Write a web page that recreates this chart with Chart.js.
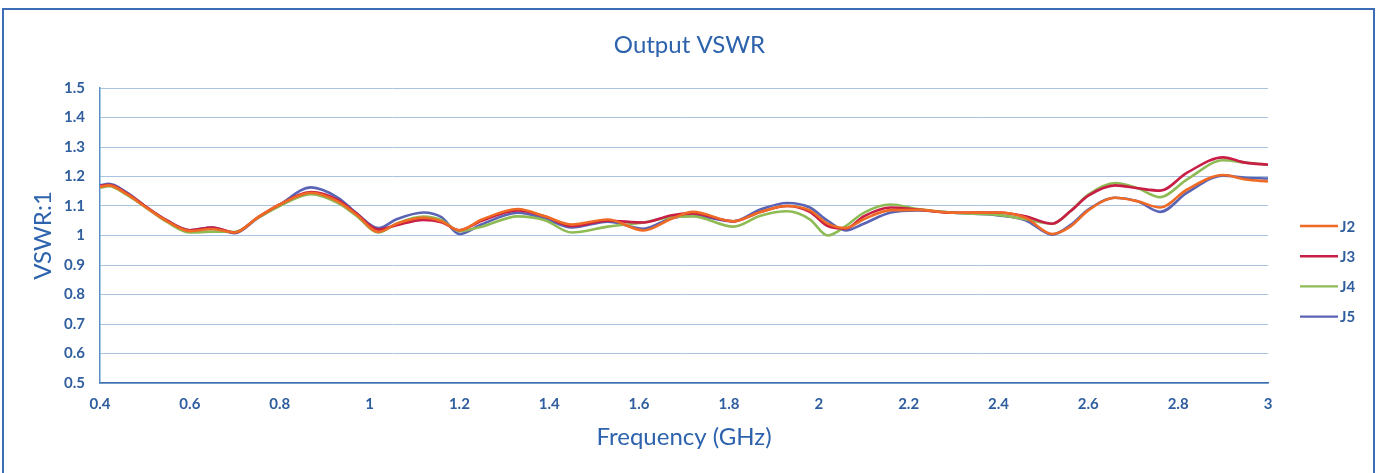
<!DOCTYPE html>
<html>
<head>
<meta charset="utf-8">
<script src="https://cdn.jsdelivr.net/npm/chart.js@4.4.1/dist/chart.umd.min.js"></script>
<style>
  html, body { margin: 0; padding: 0; background: #ffffff; }
  #wrap { position: relative; width: 1379px; height: 473px; overflow: hidden; }
  #frame { position: absolute; left: 2px; top: 8px; width: 1373px; height: 480px;
           border: 2px solid #3c6db5; pointer-events: none; box-sizing: border-box; }
  canvas { position: absolute; left: 0; top: 0; }
</style>
</head>
<body>
<div id="wrap">
  <canvas id="c" width="1379" height="473"></canvas>
  <div id="frame"></div>
</div>
<script>
// ---- data ----
const freqGHz = [0.40,0.42,0.46,0.50,0.55,0.60,0.65,0.70,0.75,0.80,0.87,0.93,0.97,1.02,1.06,1.12,1.16,1.20,1.25,1.33,1.39,1.45,1.53,1.61,1.67,1.72,1.81,1.87,1.93,1.98,2.02,2.06,2.10,2.16,2.22,2.30,2.40,2.46,2.52,2.56,2.60,2.66,2.71,2.76,2.82,2.90,2.95,3.00];

const j2 = [1.165,1.170,1.140,1.098,1.048,1.015,1.022,1.010,1.060,1.105,1.145,1.115,1.072,1.012,1.040,1.060,1.048,1.018,1.054,1.090,1.065,1.037,1.054,1.017,1.055,1.080,1.048,1.080,1.100,1.085,1.040,1.025,1.055,1.086,1.087,1.077,1.078,1.060,1.005,1.030,1.085,1.128,1.116,1.095,1.156,1.205,1.190,1.183];
const j3 = [1.168,1.172,1.143,1.100,1.050,1.018,1.027,1.010,1.060,1.105,1.147,1.120,1.075,1.020,1.035,1.053,1.045,1.018,1.050,1.085,1.065,1.032,1.050,1.044,1.068,1.075,1.048,1.080,1.100,1.080,1.032,1.023,1.065,1.095,1.088,1.077,1.078,1.065,1.040,1.082,1.135,1.170,1.160,1.152,1.213,1.265,1.247,1.240];
const j4 = [1.162,1.167,1.138,1.097,1.045,1.010,1.013,1.012,1.058,1.100,1.140,1.110,1.068,1.010,1.040,1.064,1.052,1.015,1.030,1.065,1.052,1.010,1.030,1.044,1.062,1.065,1.030,1.067,1.082,1.055,1.000,1.032,1.077,1.105,1.090,1.077,1.070,1.055,1.040,1.082,1.139,1.178,1.160,1.130,1.190,1.255,1.247,1.240];
const j5 = [1.170,1.175,1.145,1.100,1.050,1.018,1.027,1.008,1.058,1.105,1.163,1.128,1.077,1.025,1.055,1.078,1.062,1.005,1.038,1.077,1.057,1.027,1.047,1.023,1.058,1.068,1.048,1.088,1.110,1.095,1.050,1.017,1.040,1.078,1.085,1.077,1.068,1.052,1.003,1.035,1.088,1.128,1.116,1.080,1.145,1.203,1.196,1.193];

const seriesNames = ['J2','J3','J4','J5'];
const xTickLabels = ['0.4','0.6','0.8','1','1.2','1.4','1.6','1.8','2','2.2','2.4','2.6','2.8','3'];
const yTickLabels = ['0.5','0.6','0.7','0.8','0.9','1','1.1','1.2','1.3','1.4','1.5'];

// ---- styling ----
const colors = ['#ef6a24', '#c81d45', '#8fbb55', '#5a64b4'];
const textBlue = '#2f5e9e';
const titleBlue = '#2d62ad';
const FONT = 'Lato, "Open Sans", sans-serif';

const toPoints = arr => arr.map((v, i) => ({ x: freqGHz[i], y: v }));
const allSeries = [j2, j3, j4, j5];

const datasets = allSeries.map((arr, i) => ({
  label: seriesNames[i],
  data: toPoints(arr),
  borderColor: colors[i],
  backgroundColor: colors[i],
  borderWidth: 2.6,
  pointRadius: 0,
  fill: false,
  cubicInterpolationMode: 'monotone',
  yAxisID: 'y'
}));

const findLabel = (list, v) => {
  const l = list.find(s => Math.abs(parseFloat(s) - v) < 1e-6);
  return l === undefined ? '' : l;
};

// legend drawn from the datasets at the right side
const sideLegend = {
  id: 'sideLegend',
  afterDraw(chart) {
    const ctx = chart.ctx;
    ctx.save();
    chart.data.datasets.forEach((ds, i) => {
      const y = 226 + i * 30.2;
      ctx.strokeStyle = ds.borderColor;
      ctx.lineWidth = 2.4;
      ctx.beginPath();
      ctx.moveTo(1300, y);
      ctx.lineTo(1338, y);
      ctx.stroke();
      ctx.fillStyle = textBlue;
      ctx.font = 'bold 15px ' + FONT;
      ctx.textBaseline = 'middle';
      ctx.textAlign = 'left';
      ctx.fillText(ds.label, 1340, y + 1);
    });
    ctx.restore();
  }
};

new Chart(document.getElementById('c'), {
  type: 'line',
  data: { datasets },
  options: {
    responsive: false,
    animation: false,
    layout: { padding: { left: 0, right: 0, top: 0, bottom: 0 } },
    plugins: {
      legend: { display: false },
      tooltip: { enabled: false },
      title: {
        display: true,
        text: 'Output VSWR',
        color: titleBlue,
        font: { family: FONT, size: 24, weight: 'normal', lineHeight: 1.2 },
        padding: { top: 31, bottom: 28.2 }
      }
    },
    scales: {
      x: {
        type: 'linear',
        min: 0.4,
        max: 3,
        afterFit: s => { s.height = 90; },
        grid: { display: false, drawTicks: false },
        border: { display: true, color: '#3f70b3', width: 1.5 },
        ticks: {
          stepSize: 0.2,
          autoSkip: false,
          maxRotation: 0,
          padding: 12,
          color: textBlue,
          font: { family: FONT, size: 15, weight: 'bold' },
          callback: v => findLabel(xTickLabels, v)
        },
        title: {
          display: true,
          text: 'Frequency (GHz)',
          color: titleBlue,
          font: { family: FONT, size: 24, weight: 'normal', lineHeight: 1.2 },
          padding: { top: 4, bottom: 21 }
        }
      },
      y: {
        type: 'linear',
        position: 'left',
        min: 0.5,
        max: 1.5,
        afterFit: s => { s.width = 100; },
        grid: { display: true, drawTicks: false, color: '#a9c3df', lineWidth: 1 },
        border: { display: true, color: '#5b8fcb', width: 1.5 },
        ticks: {
          stepSize: 0.1,
          padding: 15,
          color: textBlue,
          font: { family: FONT, size: 15, weight: 'bold' },
          callback: v => findLabel(yTickLabels, v)
        },
        title: {
          display: true,
          text: 'VSWR:1',
          color: titleBlue,
          font: { family: FONT, size: 24, weight: 'normal', lineHeight: 1.2 },
          padding: { top: 29, bottom: 0 }
        }
      },
      legendSpace: {
        type: 'linear',
        position: 'right',
        min: 0,
        max: 1,
        afterFit: s => { s.width = 111; },
        grid: { display: false, drawTicks: false },
        border: { display: false },
        ticks: { display: false }
      }
    }
  },
  plugins: [sideLegend]
});
</script>
</body>
</html>
